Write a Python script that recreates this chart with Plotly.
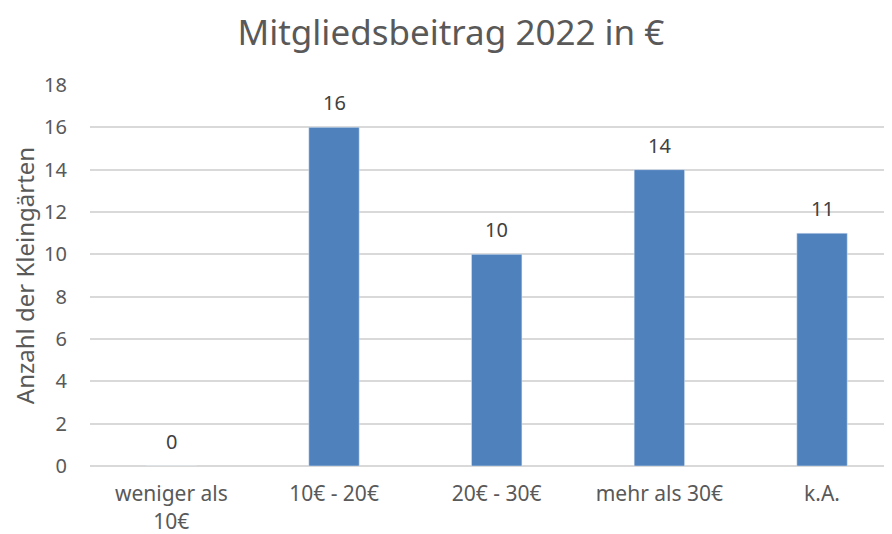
import plotly.graph_objects as go

categories = ["weniger als<br>10€", "10€ - 20€", "20€ - 30€", "mehr als 30€", "k.A."]
values = [0, 16, 10, 14, 11]
y_ticks = [0, 2, 4, 6, 8, 10, 12, 14, 16, 18]

FONT = "Noto Sans"
GRAY = "#595959"

fig = go.Figure()
fig.add_trace(go.Bar(
    x=list(range(len(categories))),
    y=values,
    marker=dict(color="#4F81BD"),
    width=0.31,
    hoverinfo="skip",
))

for i, v in enumerate(values):
    fig.add_annotation(x=i, y=v, text=str(v), showarrow=False,
                       yanchor="bottom", yshift=9,
                       font=dict(family=FONT, size=20, color="#404040"))

fig.update_layout(
    width=884, height=526,
    margin=dict(l=82, r=0, t=77, b=68, autoexpand=False),
    paper_bgcolor="white", plot_bgcolor="white",
    showlegend=False,
    title=dict(text="Mitgliedsbeitrag 2022 in €", x=0.501, xanchor="center",
               y=0.952, yanchor="middle",
               font=dict(family=FONT, size=35, color=GRAY)),
    xaxis=dict(
        automargin=False,
        range=[-0.5, 4.43],
        tickmode="array", tickvals=list(range(len(categories))), ticktext=categories,
        ticks="outside", ticklen=9, tickcolor="rgba(0,0,0,0)",
        tickfont=dict(family=FONT, size=21, color=GRAY),
        showgrid=False, showline=False, zeroline=False,
    ),
    yaxis=dict(
        automargin=False,
        range=[0, 18],
        tickmode="array", tickvals=y_ticks,
        ticks="outside", ticklen=18, tickcolor="rgba(0,0,0,0)",
        tickfont=dict(family=FONT, size=20, color=GRAY),
        showgrid=True, gridcolor="#D9D9D9", gridwidth=1.5,
        zeroline=True, zerolinecolor="#D9D9D9", zerolinewidth=1.5,
        title=dict(text="Anzahl der Kleingärten", standoff=9,
                   font=dict(family=FONT, size=24, color=GRAY)),
    ),
)

fig.write_html("out.html")
